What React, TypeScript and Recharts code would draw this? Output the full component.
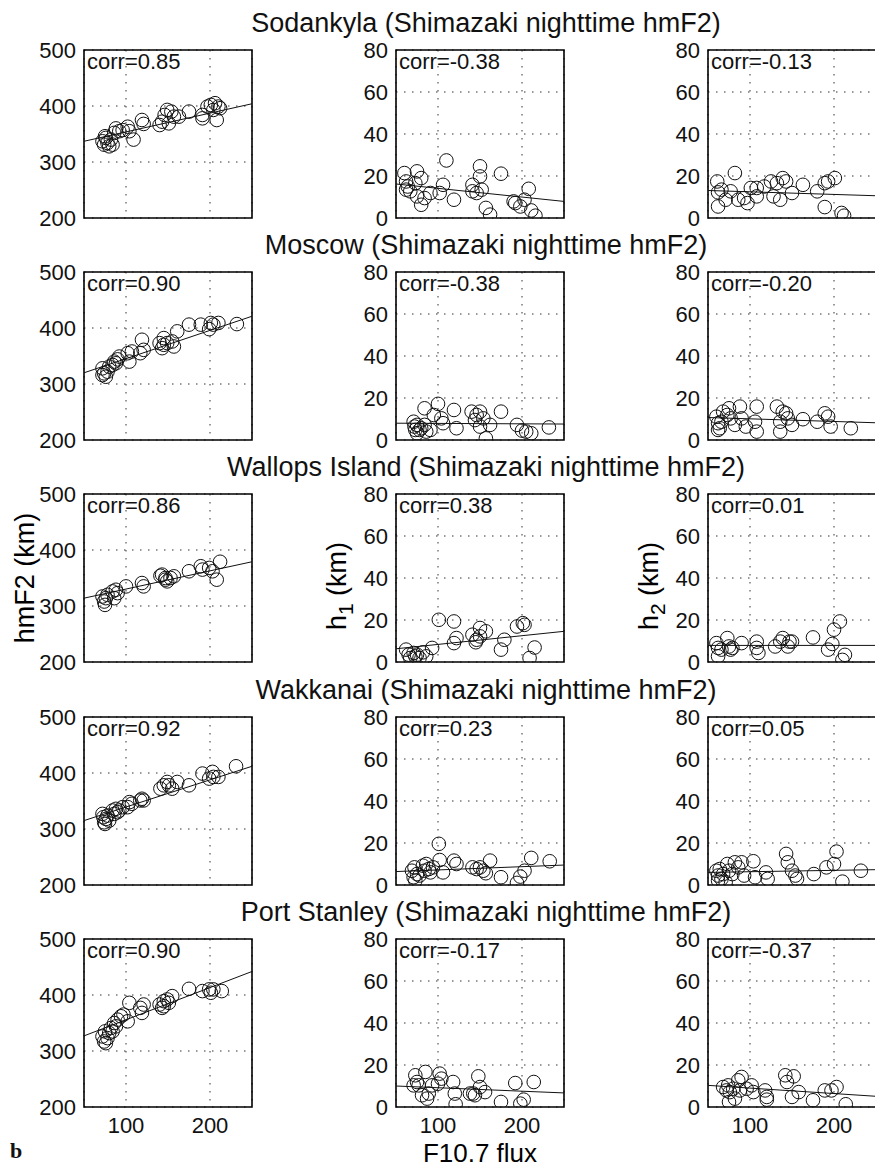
import React from 'react';
import {
  ScatterChart,
  Scatter,
  XAxis,
  YAxis,
  CartesianGrid,
  ReferenceLine,
  ReferenceArea,
} from 'recharts';

const FONT = "'Liberation Sans', Arial, Helvetica, sans-serif";

const stations = ['Sodankyla', 'Moscow', 'Wallops Island', 'Wakkanai', 'Port Stanley'];
const fluxTicks = [100, 200];
const hmf2Ticks = [200, 300, 400, 500];
const hTicks = [0, 20, 40, 60, 80];

// [F10.7 flux, value] pairs
const sodankylaHmF2 = [
  [72, 337], [74, 331], [76, 343], [78, 334], [75, 346], [82, 340], [84, 331], [80, 328], [86, 352],
  [88, 360], [92, 355], [96, 357], [102, 363], [104, 355], [109, 340], [119, 375], [121, 368],
  [140, 366], [143, 372], [146, 384], [149, 393], [154, 390], [151, 369], [157, 381], [163, 381],
  [175, 390], [191, 384], [191, 378], [197, 399], [201, 402], [206, 405], [210, 399], [208, 375],
  [212, 396], [204, 393],
];
const sodankylaH1 = [
  [60, 21.4], [62, 17.4], [64, 15], [62, 13.5], [67, 12.7], [73, 16.6], [75, 22.2], [80, 19],
  [75, 10.3], [80, 6.3], [84, 9.5], [91, 11.9], [102, 11.9], [106, 15.8], [110, 27.4], [119, 8.7],
  [141, 15.8], [146, 11.9], [150, 24.6], [150, 19.8], [152, 13.5], [157, 4.8], [162, 1.6],
  [175, 21.1], [192, 7.1], [198, 5.5], [203, 8.7], [208, 13.9], [211, 3.6], [216, 1.1], [190, 7.9],
  [141, 12.7],
];
const sodankylaH2 = [
  [61, 17.4], [62, 12.2], [62, 5.5], [66, 13.5], [71, 8.7], [77, 12.7], [82, 21.4], [86, 8.7],
  [93, 9.5], [97, 7.1], [101, 14.3], [108, 14.3], [108, 10.3], [125, 17.4], [128, 10.3],
  [132, 16.6], [136, 8.7], [139, 19], [143, 17.4], [150, 11.9], [163, 15.8], [180, 12.7],
  [189, 16.6], [193, 17.4], [201, 19], [189, 5.2], [209, 2.4], [212, 1.1], [117, 15],
];
const moscowHmF2 = [
  [72, 328], [74, 319], [76, 313], [72, 316], [78, 322], [80, 331], [84, 334], [86, 340], [90, 344],
  [92, 349], [88, 337], [102, 355], [104, 340], [107, 358], [117, 355], [119, 379], [121, 361],
  [140, 373], [143, 364], [145, 382], [149, 373], [155, 376], [157, 367], [161, 394], [175, 406],
  [189, 406], [199, 398], [201, 409], [204, 406], [210, 409], [232, 407], [145, 370],
];
const moscowH1 = [
  [71, 8.7], [72, 6.4], [73, 4.8], [75, 7.2], [75, 3.2], [78, 4.8], [80, 5.6], [84, 7.2], [86, 4],
  [91, 4.8], [84, 15.1], [95, 11.9], [100, 17.2], [104, 10.3], [106, 8], [119, 14.3], [122, 5.6],
  [140, 13.5], [144, 9.5], [150, 13.5], [150, 6.4], [154, 10.3], [157, 0.8], [162, 7.2],
  [175, 13.5], [194, 7.2], [200, 4.5], [205, 4], [211, 3.2], [232, 6], [146, 11.9],
];
const moscowH2 = [
  [60, 11.1], [62, 8], [64, 5.6], [62, 4.8], [66, 8.7], [68, 13.5], [73, 11.9], [75, 15.1],
  [77, 10.3], [82, 7.2], [88, 15.9], [90, 10.3], [95, 6.4], [106, 8.7], [108, 15.9], [108, 4],
  [132, 15.9], [136, 8.7], [139, 13.5], [143, 12.7], [136, 4], [150, 7.2], [163, 9.9], [180, 8.7],
  [189, 12.7], [193, 11.1], [196, 6.4], [220, 5.6], [145, 10.3],
];
const wallopsHmF2 = [
  [72, 317], [74, 308], [75, 302], [78, 320], [76, 314], [84, 326], [86, 314], [88, 329], [90, 323],
  [100, 335], [119, 341], [121, 335], [141, 354], [143, 356], [147, 347], [149, 344], [153, 350],
  [157, 353], [175, 362], [189, 371], [191, 365], [199, 368], [203, 362], [208, 347], [212, 379],
  [147, 350],
];
const wallopsH1 = [
  [62, 5.9], [65, 3.5], [67, 1.9], [71, 4.3], [73, 2.7], [75, 3.5], [78, 1.9], [82, 4.6], [86, 2.7],
  [93, 6.7], [101, 20.1], [119, 19.3], [119, 9], [122, 11.4], [141, 13], [145, 9.4], [150, 12.2],
  [150, 16.2], [157, 14.6], [175, 5.9], [179, 10.6], [194, 16.9], [201, 18.5], [203, 17.7],
  [209, 1.9], [215, 6.9], [146, 10.6],
];
const wallopsH2 = [
  [60, 9], [62, 6.7], [62, 2.7], [66, 5.9], [73, 11.4], [75, 7.4], [77, 5.9], [79, 6.7], [90, 9],
  [108, 9.7], [108, 6.7], [110, 4.3], [130, 7.4], [136, 9.7], [139, 11.4], [145, 7.4], [147, 9.7],
  [150, 9.7], [175, 11.7], [193, 5.9], [198, 8.6], [200, 15.4], [207, 19.3], [210, 1], [213, 3.4],
];
const wakkanaiHmF2 = [
  [72, 327], [73, 321], [74, 312], [76, 318], [78, 324], [75, 309], [80, 315], [84, 333], [86, 327],
  [88, 336], [90, 330], [92, 333], [96, 339], [102, 339], [104, 348], [107, 345], [117, 351],
  [119, 354], [121, 351], [141, 372], [145, 378], [149, 384], [151, 378], [155, 372], [161, 384],
  [175, 378], [191, 399], [199, 390], [203, 402], [204, 393], [210, 393], [231, 412],
];
const wakkanaiH1 = [
  [69, 6.8], [71, 3.7], [73, 2.1], [75, 5.2], [72, 8.4], [78, 4.5], [82, 9.2], [84, 6.8], [86, 10],
  [89, 7.6], [91, 6], [94, 8.4], [101, 19.6], [102, 11.9], [106, 6], [119, 11.6], [122, 10],
  [141, 8.4], [146, 7.6], [150, 8.4], [154, 6.8], [157, 5.6], [162, 11.6], [175, 3.7], [194, 1],
  [198, 4], [203, 6.8], [211, 12.9], [233, 11.3],
];
const wakkanaiH2 = [
  [60, 6.8], [62, 4.5], [62, 2.1], [64, 7.6], [66, 2.9], [68, 5.2], [71, 1.3], [73, 10], [75, 6.8],
  [79, 5.2], [82, 10.8], [86, 8.4], [90, 10.8], [93, 4.5], [104, 11.3], [106, 3.7], [119, 6],
  [121, 2.9], [143, 14.8], [145, 10.8], [150, 6.8], [154, 4.5], [156, 2.9], [176, 5.2], [191, 8.4],
  [200, 10], [203, 15.9], [210, 1.6], [232, 6.8],
];
const portStanleyHmF2 = [
  [72, 326], [74, 317], [76, 314], [78, 323], [75, 335], [80, 332], [82, 341], [84, 335], [86, 350],
  [88, 344], [90, 356], [94, 362], [97, 365], [102, 353], [104, 386], [117, 377], [119, 368],
  [121, 383], [140, 383], [143, 377], [145, 389], [149, 392], [151, 386], [155, 398], [175, 411],
  [191, 407], [199, 410], [201, 404], [204, 410], [214, 407], [145, 380],
];
const portStanleyH1 = [
  [73, 15.1], [75, 11.9], [71, 10.3], [77, 10.3], [85, 16.7], [81, 5.6], [87, 4], [89, 6.4],
  [93, 10.3], [102, 15.9], [104, 13.5], [100, 11.1], [118, 11.9], [120, 6.4], [121, 1.3],
  [142, 6.4], [144, 5.6], [148, 14.6], [150, 9.5], [156, 7.1], [175, 2.4], [192, 11.4], [198, 1.6],
  [202, 3.5], [214, 11.9], [138, 6.4],
];
const portStanleyH2 = [
  [68, 9.5], [72, 7.9], [74, 10.3], [76, 7.1], [80, 8.7], [82, 4], [75, 2.4], [86, 12.7], [90, 14.3],
  [88, 7.9], [96, 8.7], [102, 10.3], [104, 7.1], [118, 7.9], [120, 4.8], [120, 3.5], [142, 15.1],
  [144, 11.9], [152, 14.6], [150, 4.8], [158, 7.1], [175, 3.2], [189, 7.9], [197, 7.9], [203, 9.5],
  [214, 1.3],
];

const hmf2Series = [sodankylaHmF2, moscowHmF2, wallopsHmF2, wakkanaiHmF2, portStanleyHmF2];
const h1Series = [sodankylaH1, moscowH1, wallopsH1, wakkanaiH1, portStanleyH1];
const h2Series = [sodankylaH2, moscowH2, wallopsH2, wakkanaiH2, portStanleyH2];

const corrHmF2 = ['0.85', '0.90', '0.86', '0.92', '0.90'];
const corrH1 = ['-0.38', '-0.38', '0.38', '0.23', '-0.17'];
const corrH2 = ['-0.13', '-0.20', '0.01', '0.05', '-0.37'];

// fitted line values at F10.7 = 50 and 250
const fitHmF2 = [[337, 404], [320, 421], [314, 379], [315, 412], [327, 442]];
const fitH1 = [[16.2, 7.9], [8, 7.6], [6.3, 14.6], [6.4, 9.5], [10, 6.7]];
const fitH2 = [[13.1, 10.6], [10.7, 8.2], [7.9, 7.9], [6, 7.3], [10.3, 5.1]];

// layout
const rowTops = [50, 272, 494, 717, 939];
const colLefts = [84, 396, 708];
const PLOT = 168;
const AXIS_W = 70;
const LEFT_M = 14;
const TOP_M = 12;

const NoTick = () => <g />;

function YLabel({ viewBox, col }: any) {
  const cx = viewBox.x + viewBox.width - 50;
  const cy = viewBox.y + viewBox.height / 2 + (col === 0 ? 0 : 8);
  const tr = `rotate(-90 ${cx} ${cy})`;
  if (col === 0) {
    return (
      <text x={cx} y={cy} transform={tr} textAnchor="middle" fontSize={27} fontFamily={FONT} fill="#000">
        hmF2 (km)
      </text>
    );
  }
  return (
    <text x={cx} y={cy} transform={tr} textAnchor="middle" fontSize={27} fontFamily={FONT} fill="#000">
      h
      <tspan fontSize={21} dy={7}>{col === 1 ? '1' : '2'}</tspan>
      <tspan dy={-7}> (km)</tspan>
    </text>
  );
}

function Panel({ row, col }: { row: number; col: number }) {
  const isHm = col === 0;
  const series = isHm ? hmf2Series[row] : col === 1 ? h1Series[row] : h2Series[row];
  const corr = isHm ? corrHmF2[row] : col === 1 ? corrH1[row] : corrH2[row];
  const fit = isHm ? fitHmF2[row] : col === 1 ? fitH1[row] : fitH2[row];
  const domain = isHm ? [200, 500] : [0, 80];
  const data = series.map(([f, v]) => ({ f, v }));
  const last = row === 4;
  const bottom = last ? 6 : 14;
  const xH = last ? 58 : 0;

  return (
    <div
      style={{
        position: 'absolute',
        left: colLefts[col] - LEFT_M - AXIS_W,
        top: rowTops[row] - TOP_M,
      }}
    >
      <ScatterChart
        width={LEFT_M + AXIS_W + PLOT + 2}
        height={TOP_M + PLOT + xH + bottom}
        margin={{ top: TOP_M, right: 2, bottom, left: LEFT_M }}
      >
        <CartesianGrid strokeDasharray="1.5 6.5" stroke="#333" strokeWidth={1} />
        <XAxis
          type="number"
          dataKey="f"
          domain={[50, 250]}
          ticks={fluxTicks}
          interval={0}
          allowDataOverflow
          axisLine={false}
          tickLine={false}
          tickSize={0}
          tickMargin={10}
          height={xH}
          tick={last ? { fontSize: 22, fill: '#111', fontFamily: FONT } : NoTick}
          label={
            last && col === 1
              ? {
                  content: (p: any) => (
                    <text
                      x={p.viewBox.x + p.viewBox.width / 2}
                      y={p.viewBox.y + 55}
                      textAnchor="middle"
                      fontSize={26}
                      fontFamily={FONT}
                      fill="#000"
                    >
                      F10.7 flux
                    </text>
                  ),
                }
              : undefined
          }
        />
        <YAxis
          type="number"
          dataKey="v"
          domain={domain}
          ticks={isHm ? hmf2Ticks : hTicks}
          interval={0}
          allowDataOverflow
          axisLine={false}
          tickLine={false}
          tickSize={0}
          tickMargin={8}
          width={AXIS_W}
          tick={{ fontSize: 22, fill: '#111', fontFamily: FONT }}
          label={row === 2 ? { content: (p: any) => <YLabel viewBox={p.viewBox} col={col} /> } : undefined}
        />
        <ReferenceLine
          segment={[
            { x: 50, y: fit[0] },
            { x: 250, y: fit[1] },
          ]}
          stroke="#111"
          strokeWidth={1}
        />
        <Scatter
          data={data}
          isAnimationActive={false}
          shape={(p: any) => (
            <circle cx={p.cx} cy={p.cy} r={6.8} fill="none" stroke="#111" strokeWidth={1} />
          )}
        />
        <ReferenceArea
          x1={50}
          x2={250}
          y1={domain[0]}
          y2={domain[1]}
          fill="none"
          fillOpacity={0}
          stroke="#000"
          strokeWidth={1.6}
          label={{
            content: (p: any) => (
              <text
                x={p.viewBox.x + 3}
                y={p.viewBox.y + 19}
                fontSize={22}
                fontFamily={FONT}
                fill="#111"
              >
                {`corr=${corr}`}
              </text>
            ),
          }}
        />
      </ScatterChart>
    </div>
  );
}

export default function App() {
  return (
    <div
      style={{
        position: 'absolute',
        left: 0,
        top: 0,
        width: 875,
        height: 1168,
        overflow: 'hidden',
        background: '#fff',
      }}
    >
      <svg
        width={875}
        height={1168}
        style={{ position: 'absolute', left: 0, top: 0, pointerEvents: 'none' }}
      >
        {stations.map((s, i) => (
          <text
            key={s}
            x={486}
            y={rowTops[i] - 18}
            textAnchor="middle"
            fontSize={27}
            fontFamily={FONT}
            fill="#111"
          >
            {`${s} (Shimazaki nighttime hmF2)`}
          </text>
        ))}
        <text x={10} y={1158} fontSize={22} fontWeight="bold" fontFamily="'Liberation Serif', 'Times New Roman', serif" fill="#111">
          b
        </text>
      </svg>
      {rowTops.map((_, r) =>
        colLefts.map((__, c) => <Panel key={`${r}-${c}`} row={r} col={c} />)
      )}
    </div>
  );
}
